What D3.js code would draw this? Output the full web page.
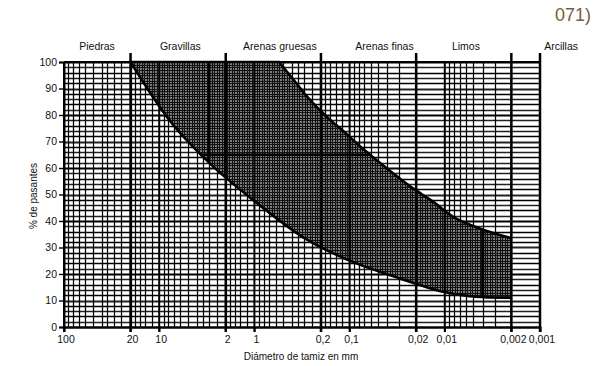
<!DOCTYPE html>
<html>
<head>
<meta charset="utf-8">
<script src="https://cdn.jsdelivr.net/npm/d3@7"></script>
<style>
  body { margin: 0; background: #fff; }
  svg { display: block; }
  text { font-family: "Liberation Sans", Arial, sans-serif; fill: #111; }
</style>
</head>
<body>
<svg id="canvas" width="593" height="366"></svg>
<script>
// ---- data ----
var xTickValues = [100, 20, 10, 2, 1, 0.2, 0.1, 0.02, 0.01, 0.002, 0.001];
var xTickLabels = ["100", "20", "10", "2", "1", "0,2", "0,1", "0,02", "0,01", "0,002", "0,001"];
var yTickValues = [0, 10, 20, 30, 40, 50, 60, 70, 80, 90, 100];

var classNames = ["Piedras", "Gravillas", "Arenas gruesas", "Arenas finas", "Limos", "Arcillas"];
var classCenters = [45, 6, 0.54, 0.043, 0.006, 0.0006];
var classBounds = [20, 2, 0.2, 0.02, 0.002, 0.001];

// upper limit of the band (starts after the flat 100 % stretch)
var upperSize = [0.55, 0.35, 0.28, 0.16, 0.12, 0.067, 0.035, 0.0216, 0.0133, 0.0082, 0.0043, 0.002];
var upperPass = [100, 91.3, 86.9, 78.1, 74.3, 66.2, 58, 52.3, 47.3, 41.6, 37.2, 33.5];
// lower limit of the band
var lowerSize = [20, 7.4, 2.7, 1.03, 0.334, 0.19, 0.085, 0.03, 0.0105, 0.0047, 0.002];
var lowerPass = [100, 77, 60.5, 47.9, 34.7, 29.7, 24, 18.4, 13.3, 11.4, 11.1];

// grid subdivisions per decade
var decadeStarts = [10, 1, 0.1, 0.01, 0.001];
var fineMult = [1.2, 1.4, 1.6, 1.8, 2, 2.5, 3, 3.5, 4, 5, 6, 7, 8, 9];
var coarseMult = [2, 3, 4, 5, 6, 7, 8, 9];
var bandHeavy = [3, 0.004];
var bandHeavyH = [65];

// ---- scales ----
var svg = d3.select('#canvas');
var plotL = 64, plotR = 540, plotT = 62, plotB = 327;
var x = d3.scaleLog().domain([100, 0.001]).range([plotL, plotR]);
var y = d3.scaleLinear().domain([0, 100]).range([plotB, plotT]);
var px = d => Math.round(x(d)) + 0.5;
var py = d => Math.round(y(d)) + 0.5;

// grid values
var gridX = [];
decadeStarts.forEach(function(d, i) {
  var mult = i < 3 ? fineMult : coarseMult;
  mult.forEach(function(m) { gridX.push(+(d * m).toPrecision(3)); });
});
var gridY = d3.range(0, 101, 2);

// ---- base grid ----
var grid = svg.append('g');
grid.selectAll('.gh').data(gridY).enter().append('line')
  .attr('x1', plotL).attr('x2', plotR)
  .attr('y1', py).attr('y2', py)
  .attr('stroke', (d, i) => i % 2 ? '#222' : '#000')
  .attr('stroke-width', d => d % 10 === 0 ? 1.8 : 1.3);
grid.selectAll('.gv').data(gridX).enter().append('line')
  .attr('x1', px).attr('x2', px)
  .attr('y1', plotT).attr('y2', plotB)
  .attr('stroke', '#000').attr('stroke-width', 1.25);

// ---- band ----
var lineGen = d3.line().x(d => x(d[0])).y(d => y(d[1])).curve(d3.curveCatmullRom.alpha(0.5));
var upperPts = upperSize.map((d, i) => [d, upperPass[i]]);
var lowerPts = lowerSize.map((d, i) => [d, lowerPass[i]]);
var upperPath = lineGen(upperPts);
var lowerPath = lineGen(lowerPts);
var lowerRevPath = lineGen(lowerPts.slice().reverse());
var bandPath = 'M' + x(lowerSize[0]) + ',' + y(100) + 'L' + upperPath.slice(1) + 'L' + lowerRevPath.slice(1) + 'Z';

svg.append('clipPath').attr('id', 'bandClip').append('path').attr('d', bandPath);
var band = svg.append('g').attr('clip-path', 'url(#bandClip)');
band.append('path').attr('d', bandPath).attr('fill', '#858585');
band.selectAll('.bv').data(d3.range(0, 5 * 38 + 1).map(k => 100 / Math.pow(10, k / 38))).enter().append('line')
  .attr('x1', px).attr('x2', px).attr('y1', plotT).attr('y2', plotB)
  .attr('stroke', '#111').attr('stroke-width', 1.1);
band.selectAll('.bh').data(d3.range(0, 101, 1)).enter().append('line')
  .attr('x1', plotL).attr('x2', plotR).attr('y1', py).attr('y2', py)
  .attr('stroke', '#111').attr('stroke-width', 1.1);
band.selectAll('.bk').data(bandHeavy).enter().append('line')
  .attr('x1', d => x(d)).attr('x2', d => x(d)).attr('y1', plotT).attr('y2', plotB)
  .attr('stroke', '#000').attr('stroke-width', 3);
band.selectAll('.bkh').data(bandHeavyH).enter().append('line')
  .attr('x1', plotL).attr('x2', plotR).attr('y1', d => y(d)).attr('y2', d => y(d))
  .attr('stroke', '#000').attr('stroke-width', 2.5);

svg.append('path').attr('d', 'M' + x(lowerSize[0]) + ',' + y(100) + 'L' + upperPath.slice(1))
  .attr('fill', 'none').attr('stroke', '#000').attr('stroke-width', 2.6);
svg.append('path').attr('d', lowerPath)
  .attr('fill', 'none').attr('stroke', '#000').attr('stroke-width', 2.6);

// ---- major verticals, class separators ----
svg.selectAll('.mv').data(xTickValues).enter().append('line')
  .attr('x1', d => x(d)).attr('x2', d => x(d))
  .attr('y1', d => classBounds.indexOf(d) >= 0 ? plotT - 9 : plotT).attr('y2', plotB + 5)
  .attr('stroke', '#000').attr('stroke-width', d => classBounds.indexOf(d) >= 0 ? 2.5 : 2);

// ---- axes ----
var xAxis = svg.append('g').attr('transform', 'translate(0,' + plotB + ')')
  .call(d3.axisBottom(x).tickValues(xTickValues).tickFormat((d, i) => xTickLabels[i]).tickSize(5).tickPadding(4));
var yAxis = svg.append('g').attr('transform', 'translate(' + plotL + ',0)')
  .call(d3.axisLeft(y).tickValues(yTickValues).tickSize(5).tickPadding(2));
[xAxis, yAxis].forEach(function(a) {
  a.select('.domain').attr('stroke', '#000').attr('stroke-width', 2);
  a.selectAll('.tick line').attr('stroke', '#000').attr('stroke-width', 1.4);
  a.selectAll('.tick text').attr('font-size', 10.5).attr('font-family', '"Liberation Sans", Arial, sans-serif').attr('fill', '#111');
});
xAxis.selectAll('.tick text').attr('dx', 1.5);

svg.append('line').attr('x1', plotL).attr('x2', plotR).attr('y1', plotT).attr('y2', plotT)
  .attr('stroke', '#000').attr('stroke-width', 2);

// ---- class labels ----
svg.selectAll('.cl').data(classNames).enter().append('text')
  .attr('x', (d, i) => x(classCenters[i])).attr('y', 50)
  .attr('text-anchor', 'middle').attr('font-size', 10.5)
  .text(d => d);

// ---- axis titles ----
svg.append('text').attr('x', 301).attr('y', 360).attr('text-anchor', 'middle')
  .attr('font-size', 10).text('Diámetro de tamiz en mm');
svg.append('text').attr('transform', 'translate(37,196) rotate(-90)').attr('text-anchor', 'middle')
  .attr('font-size', 10).text('% de pasantes');

// page fragment at the top right
svg.append('text').attr('x', 591).attr('y', 21).attr('text-anchor', 'end')
  .attr('font-size', 18).attr('font-family', '"Open Sans", sans-serif').style('fill', '#7b5b38')
  .text('071)');
</script>
</body>
</html>
